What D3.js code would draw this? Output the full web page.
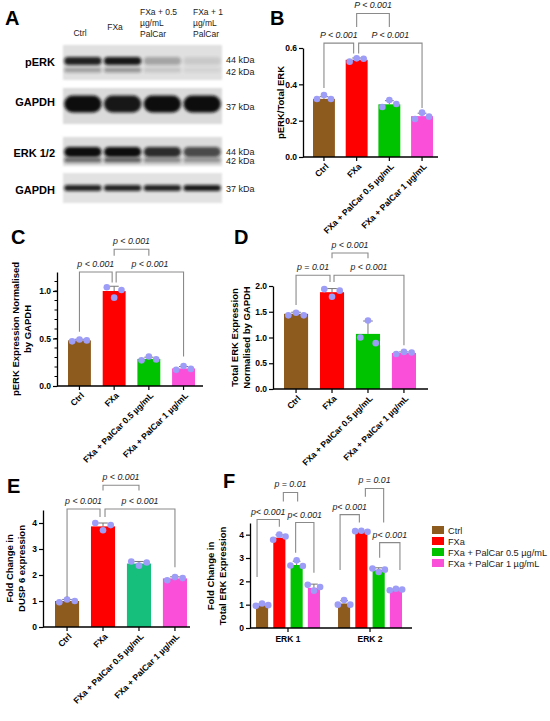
<!DOCTYPE html>
<html>
<head>
<meta charset="utf-8">
<script src="https://cdn.jsdelivr.net/npm/d3@7"></script>
<style>
  body { margin: 0; background: #fff; }
  svg { display: block; }
</style>
</head>
<body>
<main></main>
<script>
const svgWidth  = 550;
const svgHeight = 721;
const font = "'Liberation Sans', Arial, sans-serif";

// groups shared by all bar panels
const groups = ['Ctrl', 'FXa', 'FXa + PalCar 0.5 µg/mL', 'FXa + PalCar 1 µg/mL'];
const groupColors  = ['#8e5b1f', '#ff0000', '#00c300', '#f94fd9'];
const groupColorsE = ['#8e5b1f', '#ff0000', '#16c07c', '#f94fd9'];
const dotColor = '#9d9cf7';

// panel A, western blot band intensities (0..1), one per lane
const blotLanes   = [['Ctrl'], ['FXa'], ['FXa + 0.5', 'µg/mL', 'PalCar'], ['FXa + 1', 'µg/mL', 'PalCar']];
const blotRows    = ['pERK', 'GAPDH', 'ERK 1/2', 'GAPDH'];
const pErk44      = [0.90, 0.95, 0.28, 0.10];
const pErk42      = [0.30, 0.35, 0.12, 0.06];
const gapdhTop    = [1.00, 0.95, 1.00, 1.00];
const erk44       = [1.00, 1.00, 0.85, 0.70];
const erk42       = [0.55, 0.60, 0.40, 0.35];
const gapdhBottom = [0.90, 0.90, 0.90, 0.95];

// panel B
const bMeans  = [0.32, 0.535, 0.29, 0.225];
const bSd     = [0.012, 0.01, 0.02, 0.016];
const bPoints = [[0.319, 0.341, 0.319], [0.525, 0.543, 0.541], [0.275, 0.314, 0.292], [0.209, 0.244, 0.222]];
const bTicks  = [0, 0.2, 0.4, 0.6];

// panel C
const cMeans  = [0.48, 1.0, 0.285, 0.185];
const cSd     = [0.012, 0.05, 0.018, 0.02];
const cPoints = [[0.47, 0.49, 0.48], [1.04, 0.93, 1.01], [0.27, 0.31, 0.28], [0.17, 0.21, 0.18]];
const cTicks  = [0, 0.5, 1.0];

// panel D
const dMeans  = [1.46, 1.88, 1.07, 0.70];
const dSd     = [0.03, 0.07, 0.25, 0.02];
const dPoints = [[1.43, 1.48, 1.43], [1.94, 1.79, 1.91], [1.0, 1.33, 0.89], [0.68, 0.72, 0.71]];
const dTicks  = [0, 0.5, 1.0, 1.5, 2.0];

// panel E
const eMeans  = [1.0, 3.87, 2.44, 1.87];
const eSd     = [0.06, 0.13, 0.08, 0.06];
const ePoints = [[0.95, 1.06, 1.0], [4.0, 3.72, 3.92], [2.52, 2.36, 2.48], [1.8, 1.92, 1.88]];
const eTicks  = [0, 1, 2, 3, 4];

// panel F
const fGenes   = ['ERK 1', 'ERK 2'];
const fMeans   = [[0.98, 3.87, 2.70, 1.72], [1.05, 4.12, 2.48, 1.63]];
const fSd      = [[0.05, 0.12, 0.16, 0.16], [0.12, 0.03, 0.10, 0.04]];
const fPoints  = [
  [[0.95, 1.05, 0.98], [3.78, 4.0, 3.92], [2.68, 2.9, 2.66], [1.85, 1.6, 1.76]],
  [[1.0, 1.2, 1.0], [4.15, 4.17, 4.12], [2.55, 2.4, 2.5], [1.62, 1.68, 1.65]]
];
const fTicks   = [0, 1, 2, 3, 4];

// significance brackets: group a to b, horizontal at h, legs down to la / lb (data units)
const bBrackets = [
  { a: 1, b: 2, h: 0.79, la: 0.716, lb: 0.716, text: 'P < 0.001' },
  { a: 0, b: 1, h: 0.627, la: 0.38, lb: 0.57, db: -3, text: 'P < 0.001' },
  { a: 1, b: 3, h: 0.627, la: 0.57, lb: 0.27, da: 2, text: 'P < 0.001' }
];
const cBrackets = [
  { a: 1, b: 2, h: 1.44, la: 1.37, lb: 1.37, text: 'p < 0.001' },
  { a: 0, b: 1, h: 1.2, la: 0.57, lb: 1.09, db: -2, text: 'p < 0.001' },
  { a: 1, b: 3, h: 1.2, la: 1.09, lb: 0.31, da: 2, text: 'p < 0.001' }
];
const dBrackets = [
  { a: 1, b: 2, h: 2.64, la: 2.54, lb: 2.54, text: 'p < 0.001' },
  { a: 0, b: 1, h: 2.21, la: 1.63, lb: 2.08, db: -2, text: 'p = 0.01' },
  { a: 1, b: 3, h: 2.21, la: 2.08, lb: 0.85, da: 2, text: 'p < 0.001' }
];
const eBrackets = [
  { a: 1, b: 2, h: 5.45, la: 5.25, lb: 5.25, text: 'p < 0.001' },
  { a: 0, b: 1, h: 4.54, la: 1.15, lb: 4.23, db: -3, text: 'p < 0.001' },
  { a: 1, b: 3, h: 4.54, la: 4.23, lb: 2.3, da: 2, text: 'p < 0.001' }
];
const fBrackets = [
  { g: 0, a: 0, b: 1, h: 4.65, la: 2.19, lb: 4.34, da: -5, text: 'p< 0.001' },
  { g: 0, a: 1, b: 2, h: 5.81, la: 5.42, lb: 5.42, da: 4, db: 1, text: 'p = 0.01' },
  { g: 0, a: 2, b: 3, h: 4.52, la: 3.23, lb: 2.37, da: -1, text: 'p< 0.001' },
  { g: 1, a: 0, b: 1, h: 4.86, la: 2.49, lb: 4.52, da: -4, db: -2, text: 'p< 0.001' },
  { g: 1, a: 1, b: 2, h: 5.98, la: 5.63, lb: 4.52, da: 4, db: 5, text: 'p = 0.01' },
  { g: 1, a: 2, b: 3, h: 3.66, la: 3.01, lb: 2.49, da: 1, db: 4, text: 'p< 0.001' }
];

var svg;

function panelLetter(letter, x, y) {
  svg.append('text')
    .attr('x', x).attr('y', y)
    .attr('font-family', font).attr('font-weight', 'bold').attr('font-size', '20px')
    .text(letter);
}

function yLabel(lines, x, y) {
  var t = svg.append('text')
    .attr('transform', 'translate(' + x + ',' + y + ') rotate(-90)')
    .attr('text-anchor', 'middle')
    .attr('font-family', font).attr('font-weight', 'bold').attr('font-size', '9.5px');
  lines.forEach(function(l, i) {
    t.append('tspan').attr('x', 0).attr('dy', i === 0 ? -(lines.length - 1) * 6 + 'px' : '12px').text(l);
  });
}

function drawBracket(g, br, xa, xb, y) {
  var pa = xa + (br.da || 0), pb = xb + (br.db || 0);
  g.append('path')
    .attr('d', 'M' + pa + ',' + y(br.la) + 'V' + y(br.h) + 'H' + pb + 'V' + y(br.lb))
    .attr('fill', 'none').attr('stroke', '#8a8a8a').attr('stroke-width', 1.1);
  g.append('text')
    .attr('x', (pa + pb) / 2).attr('y', y(br.h) - 5)
    .attr('text-anchor', 'middle')
    .attr('font-family', font).attr('font-style', 'italic').attr('font-size', '8.8px')
    .attr('fill', '#222')
    .text(br.text);
}

function drawYAxis(g, y, p) {
  var ax = g.append('g')
    .attr('transform', 'translate(' + p.axisX + ',0)')
    .call(d3.axisLeft(y).tickValues(p.ticks).tickFormat(d3.format(p.fmt)).tickSize(4).tickSizeOuter(0));
  ax.select('.domain').attr('stroke-width', 1.3);
  ax.selectAll('.tick line').attr('stroke-width', 1.2);
  ax.selectAll('.tick text')
    .attr('font-family', font).attr('font-weight', 'bold').attr('font-size', '8.5px').attr('x', -6);
  if (p.minor) {
    ax.selectAll('.minor').data(p.minor).enter().append('line')
      .attr('x1', 0).attr('x2', -2.5)
      .attr('y1', function(d) { return y(d); }).attr('y2', function(d) { return y(d); })
      .attr('stroke', '#000').attr('stroke-width', 1);
  }
}

function drawErrorAndDots(g, cx, bw, mean, sd, pts, y) {
  g.append('line')
    .attr('x1', cx).attr('x2', cx).attr('y1', y(mean)).attr('y2', y(mean + sd))
    .attr('stroke', '#777').attr('stroke-width', 1);
  g.append('line')
    .attr('x1', cx - bw * 0.2).attr('x2', cx + bw * 0.2).attr('y1', y(mean + sd)).attr('y2', y(mean + sd))
    .attr('stroke', '#777').attr('stroke-width', 1);
  g.selectAll(null).data(pts).enter().append('circle')
    .attr('cx', function(d, i) { return cx + (i - 1) * bw * 0.32; })
    .attr('cy', function(d) { return y(d); })
    .attr('r', 3.3)
    .attr('fill', dotColor);
}

function drawBarPanel(p) {
  var g = svg.append('g');
  var y = d3.scaleLinear().domain([0, p.axisTop]).range([p.y0, p.yTop]);
  var x = d3.scaleBand().domain(groups).range([p.barL, p.barR]).paddingInner(p.pad).paddingOuter(0);
  var bw = x.bandwidth();

  g.selectAll('rect.bar').data(groups).enter().append('rect')
    .attr('x', function(d) { return x(d); })
    .attr('y', function(d, i) { return y(p.means[i]); })
    .attr('width', bw)
    .attr('height', function(d, i) { return y(0) - y(p.means[i]); })
    .attr('fill', function(d, i) { return p.colors[i]; });

  groups.forEach(function(d, i) {
    drawErrorAndDots(g, x(d) + bw / 2, bw, p.means[i], p.sd[i], p.points[i], y);
  });

  drawYAxis(g, y, p);

  // x axis
  g.append('line')
    .attr('x1', p.axisX).attr('x2', p.xEnd).attr('y1', y(0)).attr('y2', y(0))
    .attr('stroke', '#000').attr('stroke-width', 1.3);
  var xt = g.selectAll('g.xt').data(groups).enter().append('g')
    .attr('transform', function(d) { return 'translate(' + (x(d) + bw / 2) + ',' + y(0) + ')'; });
  xt.append('line').attr('y2', 4).attr('stroke', '#000').attr('stroke-width', 1.2);
  xt.append('text')
    .attr('transform', 'translate(3,8) rotate(-45)')
    .attr('text-anchor', 'end').attr('dy', '0.35em')
    .attr('font-family', font).attr('font-weight', 'bold').attr('font-size', '8.6px')
    .text(function(d) { return d; });

  p.brackets.forEach(function(br) {
    drawBracket(g, br, x(groups[br.a]) + bw / 2, x(groups[br.b]) + bw / 2, y);
  });

  yLabel(p.label, p.labelX, (y(0) + y(p.axisTop)) / 2);
}

function drawGroupedPanel() {
  var g = svg.append('g');
  var y = d3.scaleLinear().domain([0, 4.5]).range([628, 523]);
  var x0 = d3.scaleBand().domain(fGenes).range([256, 402]).paddingInner(0.22).paddingOuter(0);
  var x1 = d3.scaleBand().domain(groups).range([0, x0.bandwidth()]).paddingInner(0.3).paddingOuter(0);
  var bw = x1.bandwidth();

  fGenes.forEach(function(gene, gi) {
    groups.forEach(function(grp, i) {
      var left = x0(gene) + x1(grp);
      g.append('rect')
        .attr('x', left).attr('y', y(fMeans[gi][i]))
        .attr('width', bw).attr('height', y(0) - y(fMeans[gi][i]))
        .attr('fill', groupColors[i]);
      drawErrorAndDots(g, left + bw / 2, bw * 1.6, fMeans[gi][i], fSd[gi][i], fPoints[gi][i], y);
    });
  });

  drawYAxis(g, y, { axisX: 250, ticks: fTicks, fmt: 'd' });

  g.append('line')
    .attr('x1', 250).attr('x2', 412).attr('y1', y(0)).attr('y2', y(0))
    .attr('stroke', '#000').attr('stroke-width', 1.3);
  fGenes.forEach(function(gene) {
    var cx = x0(gene) + x0.bandwidth() / 2;
    g.append('line').attr('x1', cx).attr('x2', cx).attr('y1', y(0)).attr('y2', y(0) + 4)
      .attr('stroke', '#000').attr('stroke-width', 1.2);
    g.append('text')
      .attr('x', cx).attr('y', y(0) + 14)
      .attr('text-anchor', 'middle')
      .attr('font-family', font).attr('font-weight', 'bold').attr('font-size', '8.5px')
      .text(gene);
  });

  fBrackets.forEach(function(br) {
    var gene = fGenes[br.g];
    drawBracket(g, br,
      x0(gene) + x1(groups[br.a]) + bw / 2,
      x0(gene) + x1(groups[br.b]) + bw / 2, y);
  });

  // legend
  var lg = g.selectAll('g.lg').data(groups).enter().append('g')
    .attr('transform', function(d, i) { return 'translate(432,' + (526 + i * 11) + ')'; });
  lg.append('rect').attr('width', 12).attr('height', 8)
    .attr('fill', function(d, i) { return groupColors[i]; });
  lg.append('text')
    .attr('x', 16).attr('y', 7.5)
    .attr('font-family', font).attr('font-size', '9.2px').attr('fill', '#222')
    .text(function(d) { return d; });

  yLabel(['Fold Change in', 'Total ERK Expression'], 220, 576);
}

function drawBlot() {
  var g = svg.append('g');
  var defs = svg.append('defs');
  defs.append('filter').attr('id', 'blur').attr('x', '-20%').attr('y', '-60%').attr('width', '140%').attr('height', '220%')
    .append('feGaussianBlur').attr('stdDeviation', 1.6);
  defs.append('filter').attr('id', 'soft')
    .append('feGaussianBlur').attr('stdDeviation', 0.8);

  var lane = d3.scaleBand().domain(d3.range(4)).range([63, 222]).paddingInner(0.06).paddingOuter(0.03);

  var strips = [
    { top: 45, bottom: 80, fill: '#e0e0e0', bands: [{ v: pErk44, cy: 61, h: 8 }, { v: pErk42, cy: 70, h: 5 }], kda: [['44 kDa', 63], ['42 kDa', 75]], labelY: 66 },
    { top: 88, bottom: 124, fill: '#dadada', bands: [{ v: gapdhTop, cy: 104, h: 17 }], kda: [['37 kDa', 110]], labelY: 106 },
    { top: 137, bottom: 166, fill: '#dcdcdc', bands: [{ v: erk44, cy: 152, h: 10 }, { v: erk42, cy: 160, h: 5 }], kda: [['44 kDa', 155], ['42 kDa', 164]], labelY: 157 },
    { top: 173, bottom: 203, fill: '#e2e2e2', bands: [{ v: gapdhBottom, cy: 188, h: 6 }], kda: [['37 kDa', 192]], labelY: 194 }
  ];

  strips.forEach(function(s, si) {
    g.append('rect')
      .attr('x', 63).attr('y', s.top).attr('width', 159).attr('height', s.bottom - s.top)
      .attr('fill', s.fill).attr('filter', 'url(#soft)');
    s.bands.forEach(function(b) {
      g.selectAll(null).data(b.v).enter().append('rect')
        .attr('x', function(d, i) { return lane(i); })
        .attr('y', b.cy - b.h / 2)
        .attr('width', lane.bandwidth())
        .attr('height', b.h)
        .attr('rx', b.h / 2)
        .attr('fill', '#111')
        .attr('opacity', function(d) { return d; })
        .attr('filter', 'url(#blur)');
    });
    g.append('text')
      .attr('x', 55).attr('y', s.labelY)
      .attr('text-anchor', 'end')
      .attr('font-family', font).attr('font-weight', 'bold').attr('font-size', '11px')
      .text(blotRows[si]);
    s.kda.forEach(function(k) {
      g.append('text')
        .attr('x', 226).attr('y', k[1])
        .attr('font-family', font).attr('font-size', '9px').attr('fill', '#222')
        .text(k[0]);
    });
  });

  var headX = [80, 115, 140, 193];
  var headAnchor = ['middle', 'middle', 'start', 'start'];
  var headY = [36, 30, 15, 15];
  blotLanes.forEach(function(lines, i) {
    var t = g.append('text')
      .attr('x', headX[i]).attr('y', headY[i])
      .attr('text-anchor', headAnchor[i])
      .attr('font-family', font).attr('font-size', '8.5px').attr('fill', '#222');
    lines.forEach(function(l, j) {
      t.append('tspan').attr('x', headX[i]).attr('dy', j === 0 ? 0 : 11).text(l);
    });
  });
}

document.addEventListener('DOMContentLoaded', function() {
  svg = d3.select('body main').append('svg')
    .attr('width', svgWidth).attr('height', svgHeight)
    .attr('font-family', font);

  drawBlot();

  drawBarPanel({
    means: bMeans, sd: bSd, points: bPoints, colors: groupColors, brackets: bBrackets,
    axisTop: 0.6, y0: 157, yTop: 48, axisX: 303, xEnd: 438, barL: 313, barR: 433, pad: 0.33,
    ticks: bTicks, fmt: '.1f', label: ['pERK/Total ERK'], labelX: 284
  });

  drawBarPanel({
    means: cMeans, sd: cSd, points: cPoints, colors: groupColors, brackets: cBrackets,
    axisTop: 1.2, y0: 386, yTop: 272, axisX: 57, xEnd: 203, barL: 68, barR: 195, pad: 0.34,
    ticks: cTicks, fmt: '.1f', minor: d3.range(0.1, 1.15, 0.1),
    label: ['pERK Expression Normalised', 'by GAPDH'], labelX: 25
  });

  drawBarPanel({
    means: dMeans, sd: dSd, points: dPoints, colors: groupColors, brackets: dBrackets,
    axisTop: 2.0, y0: 389, yTop: 286, axisX: 273, xEnd: 428, barL: 284, barR: 416, pad: 0.33,
    ticks: dTicks, fmt: '.1f', label: ['Total ERK Expression', 'Normalised by GAPDH'], labelX: 244
  });

  drawBarPanel({
    means: eMeans, sd: eSd, points: ePoints, colors: groupColorsE, brackets: eBrackets,
    axisTop: 4.5, y0: 627, yTop: 510, axisX: 43, xEnd: 190, barL: 55, barR: 187, pad: 0.33,
    ticks: eTicks, fmt: 'd', label: ['Fold Change in', 'DUSP 6 expression'], labelX: 19
  });

  drawGroupedPanel();

  panelLetter('A', 5, 25);
  panelLetter('B', 270, 25);
  panelLetter('C', 11, 244);
  panelLetter('D', 234, 244);
  panelLetter('E', 7, 493);
  panelLetter('F', 223, 488);
});
</script>
</body>
</html>
